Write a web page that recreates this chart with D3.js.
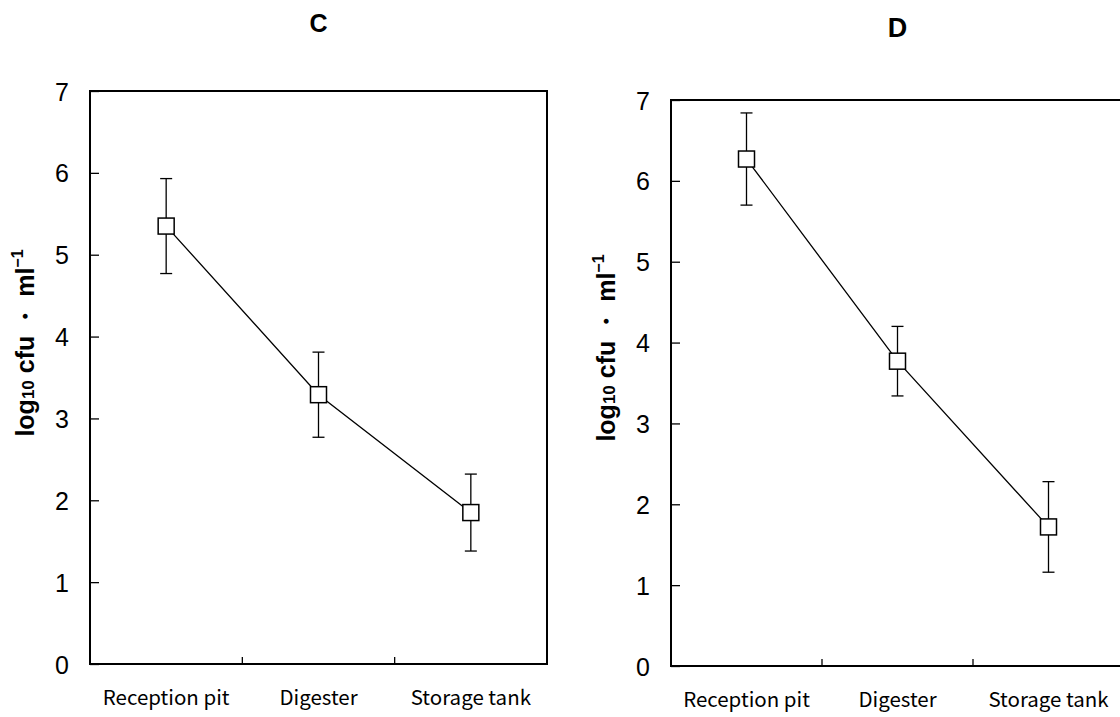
<!DOCTYPE html>
<html>
<head>
<meta charset="utf-8">
<script src="https://cdn.jsdelivr.net/npm/d3@7"></script>
<style>
  body { margin: 0; background: #fff; }
  svg { display: block; }
</style>
</head>
<body>
<div id="chart"></div>
<script>
// data
var stages = ["Reception pit", "Digester", "Storage tank"];
var yTicks = [0, 1, 2, 3, 4, 5, 6, 7];
var meansC = [5.35, 3.29, 1.85];
var errC = [0.58, 0.52, 0.47];
var meansD = [6.27, 3.77, 1.72];
var errD = [0.57, 0.43, 0.56];

var svg = d3
  .select("#chart")
  .append("svg")
  .attr("width", 1120)
  .attr("height", 717);

function drawPanel(p) {
  var x = d3.scaleBand().domain(stages).range([p.left, p.left + p.w]).padding(0);
  var y = d3.scaleLinear().domain([0, 7]).range([p.bottom, p.top]);

  var g = svg.append("g");

  // title
  g.append("text")
    .attr("x", p.left + p.w / 2)
    .attr("y", p.titleY)
    .attr("text-anchor", "middle")
    .style("font-family", "'Liberation Sans', Arial, sans-serif")
    .style("font-weight", "bold")
    .style("font-size", p.titleSize + "px")
    .text(p.title);

  // frame
  g.append("rect")
    .attr("x", p.left)
    .attr("y", p.top)
    .attr("width", p.w)
    .attr("height", p.bottom - p.top)
    .attr("fill", "none")
    .attr("stroke", "#000")
    .attr("stroke-width", 2);

  // y axis, ticks point inwards
  var yAxis = g.append("g")
    .attr("transform", "translate(" + p.left + ",0)")
    .call(d3.axisRight(y).tickValues(yTicks).tickSize(9).tickFormat(d3.format("d")));
  yAxis.select(".domain").remove();
  yAxis.selectAll("line").attr("stroke-width", 1.3);
  yAxis.selectAll("text")
    .attr("x", -21)
    .attr("text-anchor", "end")
    .attr("dy", "0.36em")
    .style("font-family", "'Liberation Sans', Arial, sans-serif")
    .style("font-size", "25px");

  // x axis: labels only, ticks sit between categories
  var xAxis = g.append("g")
    .attr("transform", "translate(0," + p.bottom + ")")
    .call(d3.axisBottom(x).tickSize(0).tickPadding(26));
  xAxis.select(".domain").remove();
  xAxis.selectAll("text")
    .style("font-family", "'Noto Sans CJK JP', sans-serif")
    .style("font-size", "20.5px");

  g.selectAll(".xtick")
    .data(stages.slice(1))
    .enter()
    .append("line")
    .attr("class", "xtick")
    .attr("x1", function (d) { return x(d); })
    .attr("x2", function (d) { return x(d); })
    .attr("y1", p.bottom)
    .attr("y2", p.bottom - 7)
    .attr("stroke", "#000")
    .attr("stroke-width", 1.3);

  // y axis title
  var lab = g.append("text")
    .attr("transform", "translate(" + p.labelX + "," + p.labelY + ") rotate(-90)")
    .attr("text-anchor", "middle")
    .style("font-family", "'Liberation Sans', Arial, sans-serif")
    .style("font-weight", "bold")
    .style("font-size", "25px");
  lab.append("tspan").text("log");
  lab.append("tspan").style("font-size", "17px").text("10");
  lab.append("tspan").text(" cfu \u30FB ml");
  lab.append("tspan").attr("dy", -11).style("font-size", "16px").text("\u22121");

  var pts = stages.map(function (s, i) {
    return { s: s, m: p.means[i], e: p.errs[i] };
  });
  var cx = function (d) { return x(d.s) + x.bandwidth() / 2; };

  // error bars
  var eb = g.selectAll(".eb").data(pts).enter().append("g").attr("class", "eb")
    .attr("stroke", "#000").attr("stroke-width", 1.3);
  eb.append("line")
    .attr("x1", cx).attr("x2", cx)
    .attr("y1", function (d) { return y(d.m + d.e); })
    .attr("y2", function (d) { return y(d.m - d.e); });
  [1, -1].forEach(function (sgn) {
    eb.append("line")
      .attr("x1", function (d) { return cx(d) - 6; })
      .attr("x2", function (d) { return cx(d) + 6; })
      .attr("y1", function (d) { return y(d.m + sgn * d.e); })
      .attr("y2", function (d) { return y(d.m + sgn * d.e); });
  });

  // line
  g.append("path")
    .datum(pts)
    .attr("fill", "none")
    .attr("stroke", "#000")
    .attr("stroke-width", 1.3)
    .attr("d", d3.line().x(cx).y(function (d) { return y(d.m); }));

  // markers
  g.selectAll(".mk").data(pts).enter().append("rect")
    .attr("x", function (d) { return cx(d) - 8; })
    .attr("y", function (d) { return y(d.m) - 8; })
    .attr("width", 16)
    .attr("height", 16)
    .attr("fill", "#fff")
    .attr("stroke", "#000")
    .attr("stroke-width", 1.5);
}

drawPanel({ title: "C", titleY: 32, titleSize: 25, left: 90, w: 457, top: 91, bottom: 664,
  labelX: 34, labelY: 343, means: meansC, errs: errC });
drawPanel({ title: "D", titleY: 37, titleSize: 27, left: 671, w: 453, top: 100, bottom: 666,
  labelX: 615, labelY: 348, means: meansD, errs: errD });
</script>
</body>
</html>
